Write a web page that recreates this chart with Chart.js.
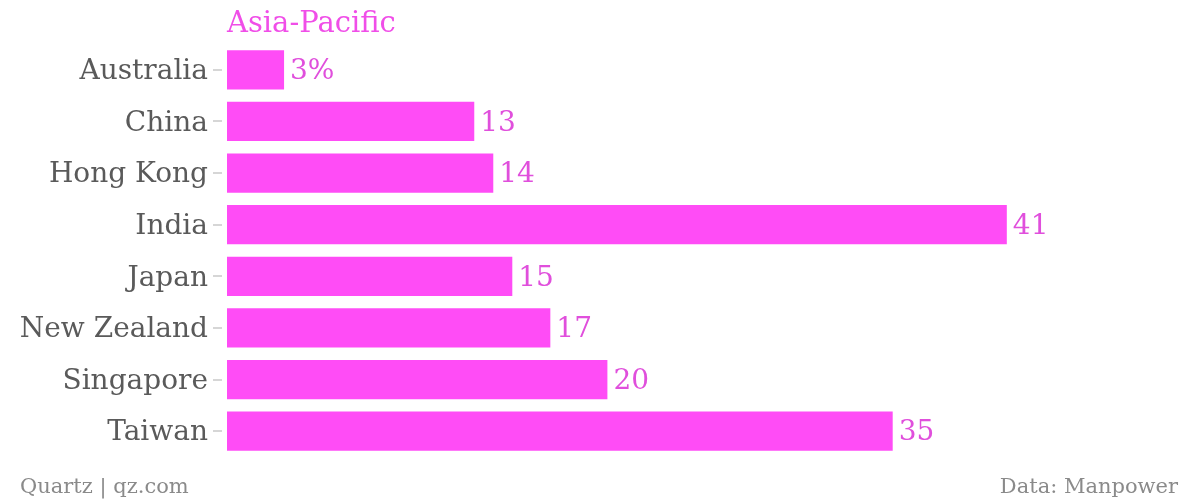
<!DOCTYPE html>
<html>
<head>
<meta charset="utf-8">
<script src="https://cdn.jsdelivr.net/npm/chart.js@4"></script>
<style>
  body { margin: 0; background: #fff; }
  #wrap { position: relative; width: 1200px; height: 502px; }
  .txt { position: absolute; font-family: "DejaVu Serif", serif; white-space: nowrap; }
  #title { left: 227px; top: 5px; font-size: 29px; color: #f04ee8; }
  #src { left: 20px; top: 474px; font-size: 21px; color: #8a8a8a; }
  #data { right: 22px; top: 474px; font-size: 21px; color: #8a8a8a; }
</style>
</head>
<body>
<div id="wrap">
  <canvas id="chart" width="1200" height="502"></canvas>
  <div class="txt" id="title">Asia-Pacific</div>
  <div class="txt" id="src">Quartz | qz.com</div>
  <div class="txt" id="data">Data: Manpower</div>
</div>
<script>
const countries = ["Australia", "China", "Hong Kong", "India", "Japan", "New Zealand", "Singapore", "Taiwan"];
const shares = [3, 13, 14, 41, 15, 17, 20, 35];
const barColor = "#ff4cf6";
const labelColor = "#e04fdc";

// value labels at the end of each bar
const valueLabels = {
  id: "valueLabels",
  afterDatasetsDraw(chart) {
    const ctx = chart.ctx;
    const meta = chart.getDatasetMeta(0);
    ctx.save();
    ctx.font = "28px 'DejaVu Serif'";
    ctx.fillStyle = labelColor;
    ctx.textBaseline = "middle";
    meta.data.forEach((bar, i) => {
      const txt = i === 0 ? shares[i] + "%" : String(shares[i]);
      ctx.fillText(txt, bar.x + 6, bar.y + 2);
    });
    ctx.restore();
  },
};

// short gray tick marks left of the bars
const tickMarks = {
  id: "tickMarks",
  afterDraw(chart) {
    const ctx = chart.ctx;
    const y = chart.scales.y;
    const left = chart.chartArea.left;
    ctx.save();
    ctx.strokeStyle = "#d6d6d6";
    ctx.lineWidth = 2;
    y.ticks.forEach((t, i) => {
      const py = Math.round(y.getPixelForTick(i));
      ctx.beginPath();
      ctx.moveTo(left - 14, py);
      ctx.lineTo(left - 5, py);
      ctx.stroke();
    });
    ctx.restore();
  },
};

new Chart(document.getElementById("chart").getContext("2d"), {
  type: "bar",
  data: {
    labels: countries,
    datasets: [
      {
        data: shares,
        backgroundColor: barColor,
        borderWidth: 0,
        barPercentage: 0.76,
        categoryPercentage: 1,
      },
    ],
  },
  options: {
    indexAxis: "y",
    responsive: false,
    animation: false,
    layout: { padding: { top: 44, bottom: 45, right: 22, left: 0 } },
    plugins: { legend: { display: false }, tooltip: { enabled: false } },
    scales: {
      x: { display: false, min: 0, max: 50 },
      y: {
        afterFit: (scale) => { scale.width = 227; },
        grid: { display: false, drawTicks: false },
        border: { display: false },
        ticks: {
          padding: 19,
          labelOffset: 2,
          color: "#5a5a5a",
          font: { family: "DejaVu Serif", size: 28 },
        },
      },
    },
  },
  plugins: [valueLabels, tickMarks],
});
</script>
</body>
</html>
